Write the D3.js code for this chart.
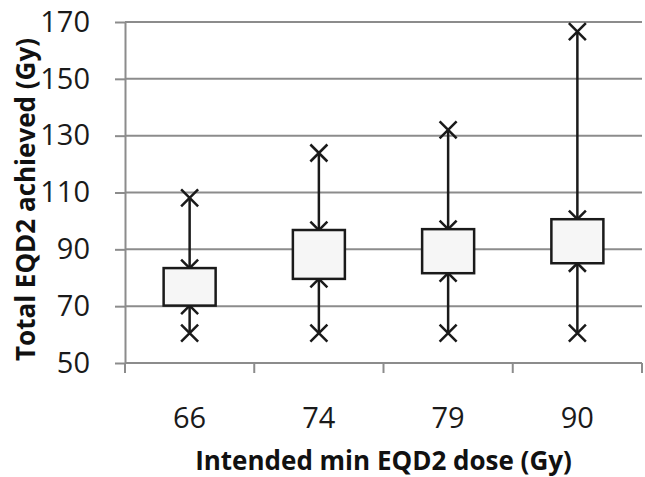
<!DOCTYPE html>
<html>
<head>
<meta charset="utf-8">
<script src="https://cdn.jsdelivr.net/npm/d3@7"></script>
<style>
  body { margin: 0; background: #fff; }
  svg { display: block; }
</style>
</head>
<body>
<div id="chart"></div>
<script>
var doses = ["66", "74", "79", "90"];
var minVals = [60.5, 60.5, 60.5, 60.5];
var q1Vals = [70.2, 79.6, 81.6, 85.1];
var q3Vals = [83.4, 96.8, 97.1, 100.6];
var maxVals = [108.1, 123.9, 132, 166.6];
var yTicks = [50, 70, 90, 110, 130, 150, 170];

var margin = {top: 22, right: 3, bottom: 114, left: 125},
    width = 645 - margin.left - margin.right,
    height = 477 - margin.top - margin.bottom;

var data = doses.map(function(d, i) {
  return {dose: d, min: minVals[i], q1: q1Vals[i], q3: q3Vals[i], max: maxVals[i]};
});

var svg = d3.select("#chart")
  .append("svg")
    .attr("width", 645)
    .attr("height", 477)
  .append("g")
    .attr("transform", "translate(" + margin.left + "," + margin.top + ")");

var x = d3.scaleBand()
  .domain(doses)
  .range([0, width]);

var y = d3.scaleLinear()
  .domain([50, 170])
  .range([height, 0]);

var gridColor = "#8c8c8c";

// horizontal gridlines
svg.append("g")
  .selectAll("line")
  .data(yTicks)
  .enter()
  .append("line")
    .attr("x1", 0)
    .attr("x2", width)
    .attr("y1", function(d) { return y(d); })
    .attr("y2", function(d) { return y(d); })
    .style("stroke", gridColor)
    .style("stroke-width", 2);

// y axis
var yAxis = svg.append("g")
  .call(d3.axisLeft(y).tickValues(yTicks).tickSize(10).tickPadding(25).tickSizeOuter(0));
yAxis.select(".domain").style("stroke", gridColor).style("stroke-width", 2);
yAxis.selectAll(".tick line").style("stroke", gridColor).style("stroke-width", 2);
yAxis.selectAll(".tick text")
  .style("font-family", "'Open Sans', sans-serif")
  .style("font-size", "29px")
  .style("fill", "#1a1a1a");

// x axis: ticks at category boundaries
var xAxis = svg.append("g")
  .attr("transform", "translate(0," + height + ")");
xAxis.append("line")
  .attr("x1", 0).attr("x2", width)
  .style("stroke", gridColor).style("stroke-width", 2);
var bounds = doses.map(function(d) { return x(d); }).concat([width]);
xAxis.selectAll(".xtick")
  .data(bounds)
  .enter()
  .append("line")
    .attr("class", "xtick")
    .attr("x1", function(d) { return d; })
    .attr("x2", function(d) { return d; })
    .attr("y1", 0)
    .attr("y2", 10)
    .style("stroke", gridColor)
    .style("stroke-width", 2);
xAxis.selectAll(".xlabel")
  .data(doses)
  .enter()
  .append("text")
    .attr("class", "xlabel")
    .attr("x", function(d) { return x(d) + x.bandwidth() / 2; })
    .attr("y", 65)
    .attr("text-anchor", "middle")
    .style("font-family", "'Open Sans', sans-serif")
    .style("font-size", "29px")
    .style("fill", "#1a1a1a")
    .text(function(d) { return d; });

// axis titles
svg.append("text")
  .attr("x", width / 2)
  .attr("y", height + 107)
  .attr("text-anchor", "middle")
  .style("font-family", "'Open Sans', sans-serif")
  .style("font-weight", "bold")
  .style("font-size", "26px")
  .style("fill", "#111")
  .text("Intended min EQD2 dose (Gy)");

svg.append("text")
  .attr("transform", "translate(" + (-90) + "," + (height / 2 + 7) + ") rotate(-90)")
  .attr("text-anchor", "middle")
  .style("font-family", "'Open Sans', sans-serif")
  .style("font-weight", "bold")
  .style("font-size", "26px")
  .style("fill", "#111")
  .text("Total EQD2 achieved (Gy)");

// boxes
var boxW = 52, xs = 8.5;
var cx = function(d) { return x(d.dose) + x.bandwidth() / 2; };
var groups = svg.append("g")
  .selectAll("g")
  .data(data)
  .enter()
  .append("g");

groups.append("line")
  .attr("x1", cx).attr("x2", cx)
  .attr("y1", function(d) { return y(d.min); })
  .attr("y2", function(d) { return y(d.max); })
  .style("stroke", "#1a1a1a")
  .style("stroke-width", 2.5);

groups.each(function(d) {
  var g = d3.select(this);
  [d.min, d.q1, d.q3, d.max].forEach(function(v) {
    var px = cx(d), py = y(v);
    g.append("path")
      .attr("d", "M" + (px - xs) + "," + (py - xs) + "L" + (px + xs) + "," + (py + xs) +
                 "M" + (px - xs) + "," + (py + xs) + "L" + (px + xs) + "," + (py - xs))
      .style("stroke", "#1a1a1a")
      .style("stroke-width", 2.5)
      .style("fill", "none");
  });
});

groups.append("rect")
  .attr("x", function(d) { return cx(d) - boxW / 2; })
  .attr("y", function(d) { return y(d.q3); })
  .attr("width", boxW)
  .attr("height", function(d) { return y(d.q1) - y(d.q3); })
  .style("fill", "#f6f6f6")
  .style("stroke", "#1a1a1a")
  .style("stroke-width", 2.5);
</script>
</body>
</html>
